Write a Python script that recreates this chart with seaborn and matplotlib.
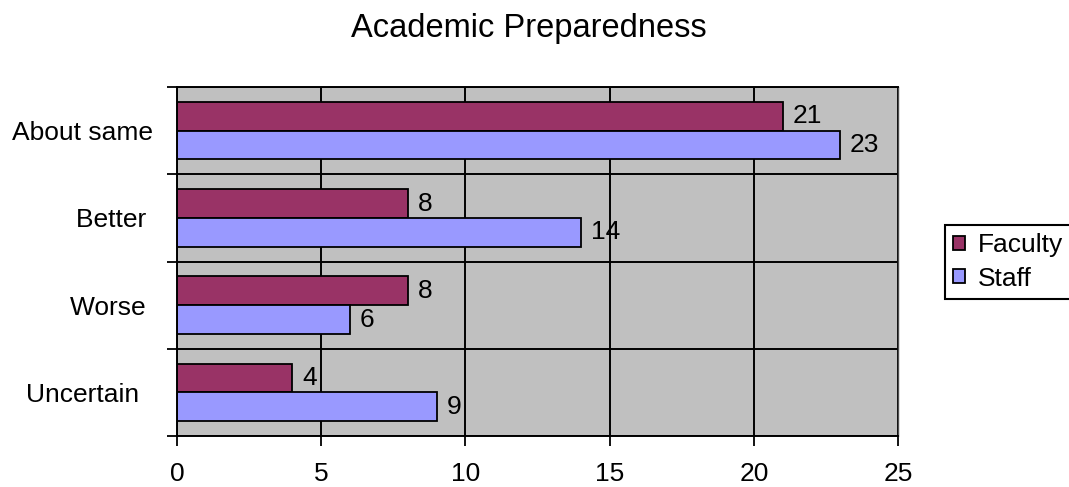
import matplotlib
matplotlib.use("Agg")
import matplotlib.pyplot as plt
import seaborn as sns
import pandas as pd
from matplotlib.ticker import FixedLocator

categories = ["About same", "Better", "Worse", "Uncertain"]
faculty = [21, 8, 8, 4]
staff = [23, 14, 6, 9]
series_names = ["Faculty", "Staff"]
tick_labels = ["About same", "Better ", "Worse ", "Uncertain  "]
x_ticks = [0, 5, 10, 15, 20, 25]
title = "Academic Preparedness"

df = pd.DataFrame({
    "category": categories * 2,
    "series": [series_names[0]] * len(categories) + [series_names[1]] * len(categories),
    "value": faculty + staff,
})

sns.set_style("white")
plt.rcParams["font.family"] = ["Liberation Sans", "DejaVu Sans"]
plt.rcParams["text.color"] = "black"
plt.rcParams["xtick.color"] = "black"
plt.rcParams["ytick.color"] = "black"
plt.rcParams["axes.labelcolor"] = "black"

fig = plt.figure(figsize=(10.69, 4.87), dpi=100)
ax = fig.add_axes([0.1656, 0.1047, 0.6745, 0.7166])
ax.set_facecolor("#C0C0C0")

sns.barplot(data=df, y="category", x="value", hue="series", order=categories,
            hue_order=series_names, orient="h",
            palette={"Faculty": "#993366", "Staff": "#9999FF"},
            width=0.66, gap=0, edgecolor="black", linewidth=1.3,
            saturation=1, ax=ax, legend=True)

for cont in ax.containers:
    ax.bar_label(cont, fmt="%g", padding=7, fontsize=19, color="black")

ax.set_xlim(0, 25)
ax.set_ylim(3.5, -0.5)
ax.set_xticks(x_ticks)
ax.set_yticks(range(len(categories)))
ax.set_yticklabels(tick_labels)
ax.yaxis.set_minor_locator(FixedLocator([-0.5, 0.5, 1.5, 2.5, 3.5]))
ax.set_xlabel("")
ax.set_ylabel("")

ax.set_axisbelow(True)
ax.grid(True, which="major", axis="x", color="black", linewidth=1.4)
ax.grid(True, which="minor", axis="y", color="black", linewidth=1.4)
ax.grid(False, which="major", axis="y")

ax.tick_params(axis="x", which="major", length=7, width=1.3, direction="out",
               pad=12, labelsize=19, colors="black", bottom=True)
ax.tick_params(axis="y", which="major", length=0, pad=17, labelsize=19, colors="black")
ax.tick_params(axis="y", which="minor", length=7, width=1.3, direction="out", left=True)

for side in ["left", "bottom", "top"]:
    ax.spines[side].set_color("black")
    ax.spines[side].set_linewidth(1.4)
ax.spines["right"].set_color("#505050")
ax.spines["right"].set_linewidth(1.0)

handles, labels = ax.get_legend_handles_labels()
ax.get_legend().remove()
leg = fig.legend(handles, labels, loc="center left", bbox_to_anchor=(0.884, 0.462),
                 fontsize=19, frameon=True, fancybox=False, framealpha=1,
                 edgecolor="black", handlelength=0.45, handleheight=0.45,
                 handletextpad=0.5, borderpad=0.3, labelspacing=0.35,
                 borderaxespad=0)
leg.get_frame().set_linewidth(1.5)
for t in leg.get_texts():
    t.set_color("black")

fig.suptitle(title, x=0.495, y=0.924, va="baseline", fontsize=23.5, color="black")

fig.savefig("out.png", dpi=100)
